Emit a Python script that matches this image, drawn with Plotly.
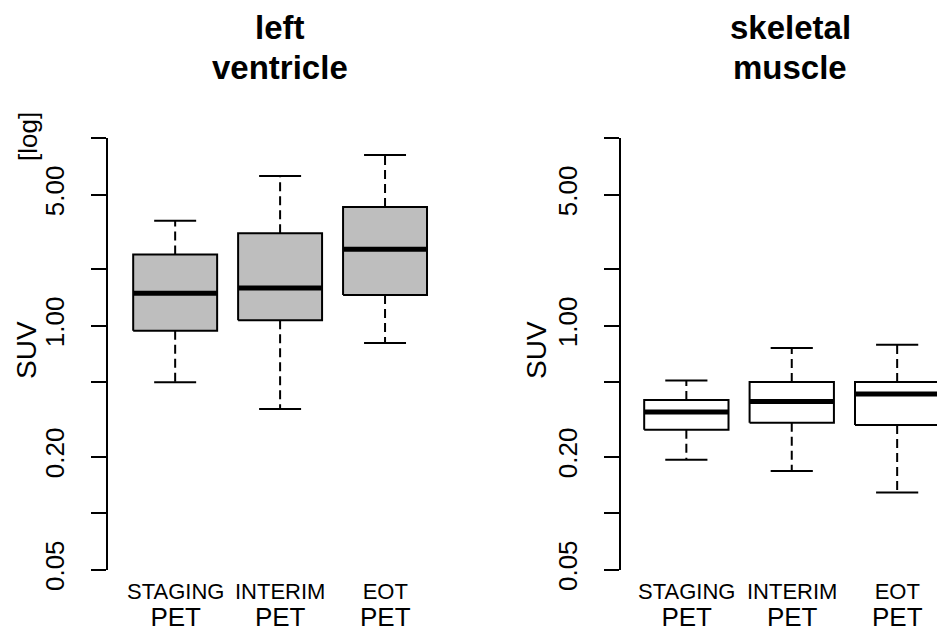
import math
import plotly.graph_objects as go

# ---------------- data ----------------
categories = ["STAGING", "INTERIM", "EOT"]
category_sub = "PET"

lv_low = [0.50, 0.36, 0.81]
lv_q1 = [0.94, 1.07, 1.46]
lv_median = [1.49, 1.59, 2.56]
lv_q3 = [2.40, 3.12, 4.30]
lv_high = [3.63, 6.30, 8.15]

sm_low = [0.193, 0.168, 0.129]
sm_q1 = [0.279, 0.304, 0.296]
sm_median = [0.347, 0.395, 0.433]
sm_q3 = [0.402, 0.501, 0.501]
sm_high = [0.511, 0.761, 0.792]

tick_vals = [0.05, 0.1, 0.2, 0.5, 1, 2, 5, 10]
tick_text = ["0.05", "", "0.20", "", "1.00", "", "5.00", ""]

panel_titles = [("left", "ventricle"), ("skeletal", "muscle")]

# ---------------- styling ----------------
W = 937
H = 632            # layout grid (pixels of the reference picture)
FIG_H = 653        # page height that the screenshot maps onto 632 px
FONT = "Liberation Sans, Arimo, Arial, sans-serif"
BOX_HALF = 0.4
CAP_HALF = 0.2

fig = go.Figure()


def add_boxes(xref, yref, low, q1, med, q3, high, fill):
    for i in range(len(categories)):
        p = i + 1
        # whiskers (dashed, drawn from box edge outward)
        for a, b in ((q3[i], high[i]), (q1[i], low[i])):
            fig.add_trace(go.Scatter(
                x=[p, p], y=[a, b], mode="lines", xaxis=xref, yaxis=yref,
                line=dict(color="black", width=2, dash="9px,5px"),
                hoverinfo="skip"))
        # staples
        for v in (high[i], low[i]):
            fig.add_trace(go.Scatter(
                x=[p - CAP_HALF, p + CAP_HALF], y=[v, v], mode="lines",
                xaxis=xref, yaxis=yref,
                line=dict(color="black", width=2), hoverinfo="skip"))
        # box
        fig.add_trace(go.Scatter(
            x=[p - BOX_HALF, p + BOX_HALF, p + BOX_HALF, p - BOX_HALF, p - BOX_HALF],
            y=[q1[i], q1[i], q3[i], q3[i], q1[i]],
            mode="lines", fill="toself", fillcolor=fill,
            xaxis=xref, yaxis=yref,
            line=dict(color="black", width=2), hoverinfo="skip"))
        # median
        fig.add_trace(go.Scatter(
            x=[p - BOX_HALF, p + BOX_HALF], y=[med[i], med[i]], mode="lines",
            xaxis=xref, yaxis=yref,
            line=dict(color="black", width=5), hoverinfo="skip"))


add_boxes("x", "y", lv_low, lv_q1, lv_median, lv_q3, lv_high, "#BEBEBE")
add_boxes("x2", "y2", sm_low, sm_q1, sm_median, sm_q3, sm_high, "white")

y_range = [math.log10(min(tick_vals)) - 0.002, math.log10(max(tick_vals)) + 0.002]
y_domain = [62 / H, 494 / H]

yaxis_common = dict(
    type="log", range=y_range, domain=y_domain,
    tickmode="array", tickvals=tick_vals, ticktext=tick_text,
    ticks="outside", ticklen=15, tickwidth=2, tickcolor="black",
    showline=True, linewidth=2, linecolor="black",
    showgrid=False, zeroline=False, ticklabelstandoff=17,
    tickangle=-90, tickfont=dict(size=26, color="black", family=FONT),
)
xaxis_common = dict(
    showline=False, showgrid=False, zeroline=False,
    showticklabels=False, ticks="",
)

fig.update_layout(
    width=W, height=FIG_H, autosize=False,
    margin=dict(l=0, r=0, t=0, b=0),
    paper_bgcolor="white", plot_bgcolor="white",
    showlegend=False,
    font=dict(family=FONT, color="black"),
    xaxis=dict(domain=[108 / W, 448 / W], range=[0.36, 3.60], **xaxis_common),
    xaxis2=dict(domain=[621 / W, 1.0], range=[0.38, 3.378], **xaxis_common),
    yaxis=dict(anchor="x", **yaxis_common),
    yaxis2=dict(anchor="x2", **yaxis_common),
)

annotations = []
# panel titles (two lines each)
for (line1, line2), cx in zip(panel_titles, [280, 790]):
    for txt, cy in ((line1, 27), (line2, 67)):
        annotations.append(dict(
            text=f"<b>{txt}</b>", x=cx / W, y=(H - cy) / H, xref="paper", yref="paper",
            xanchor="center", yanchor="middle", showarrow=False,
            font=dict(size=33, family=FONT, color="black")))
# y axis titles
for cx in [26, 536]:
    annotations.append(dict(
        text="SUV", x=cx / W, y=(H - 350) / H, xref="paper", yref="paper",
        xanchor="center", yanchor="middle", textangle=-90, showarrow=False,
        font=dict(size=28, family=FONT, color="black")))
annotations.append(dict(
    text="[log]", x=28 / W, y=(H - 137) / H, xref="paper", yref="paper",
    xanchor="center", yanchor="middle", textangle=-90, showarrow=False,
    font=dict(size=26, family=FONT, color="black")))
# category labels: small category name above larger "PET"
for xref in ["x", "x2"]:
    for i, cat in enumerate(categories):
        annotations.append(dict(
            text=(f"<span style='font-size:22px'>{cat}</span><br>"
                  f"<span style='font-size:26px'>{category_sub}</span>"),
            x=i + 1, y=(H - 605.5) / H, xref=xref, yref="paper",
            xanchor="center", yanchor="middle", showarrow=False,
            font=dict(size=20.7, family=FONT, color="black")))
fig.update_layout(annotations=annotations)

fig.write_html(
    "out.html",
    config={"displayModeBar": False, "responsive": False},
    post_script="document.body.style.margin='0px';",
)
